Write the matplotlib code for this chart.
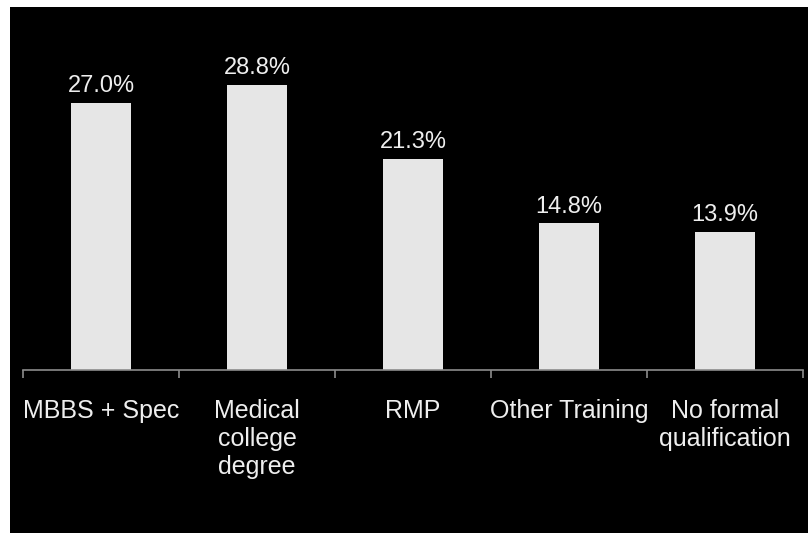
import matplotlib.pyplot as plt
import numpy as np
from matplotlib.patches import Rectangle

categories = ["MBBS + Spec", "Medical\ncollege\ndegree", "RMP", "Other Training", "No formal\nqualification"]
shares = [27.0, 28.8, 21.3, 14.8, 13.9]

plt.rcParams['font.family'] = ['Liberation Sans', 'DejaVu Sans']

W, H = 808, 533
fig = plt.figure(figsize=(W / 100, H / 100), dpi=100, facecolor='white')

# black slide background, leaving a thin white margin on the left and top
fig.patches.append(Rectangle((10 / W, 0), 1 - 10 / W, (H - 7) / H,
                             transform=fig.transFigure, facecolor='black',
                             edgecolor='none', zorder=-1))

ax = fig.add_axes([23 / W, (H - 370) / H, 780 / W, 297 / H])
ax.set_facecolor('none')

x = np.arange(len(categories))
bars = ax.bar(x, shares, width=0.39, color='#e6e6e6', edgecolor='none')

for b, v in zip(bars, shares):
    ax.text(b.get_x() + b.get_width() / 2, v + 0.6, f"{v:.1f}%",
            ha='center', va='bottom', color='#eeeeee', fontsize=17)

ax.set_xlim(-0.5, len(categories) - 0.5)
ax.set_ylim(0, 30)

for s in ['top', 'right', 'left']:
    ax.spines[s].set_visible(False)
ax.spines['bottom'].set_color('#8c8c8c')
ax.spines['bottom'].set_linewidth(1.2)
ax.set_yticks([])

ax.set_xticks(x)
ax.set_xticklabels(categories, color='#eeeeee', fontsize=18, linespacing=1.2, va='top')
ax.tick_params(axis='x', which='major', length=0, pad=21)
ax.set_xticks(np.arange(-0.5, len(categories)), minor=True)
ax.tick_params(axis='x', which='minor', direction='out', length=6, color='#8c8c8c', width=1.2)

fig.savefig('out.png', dpi=100, facecolor=fig.get_facecolor())
